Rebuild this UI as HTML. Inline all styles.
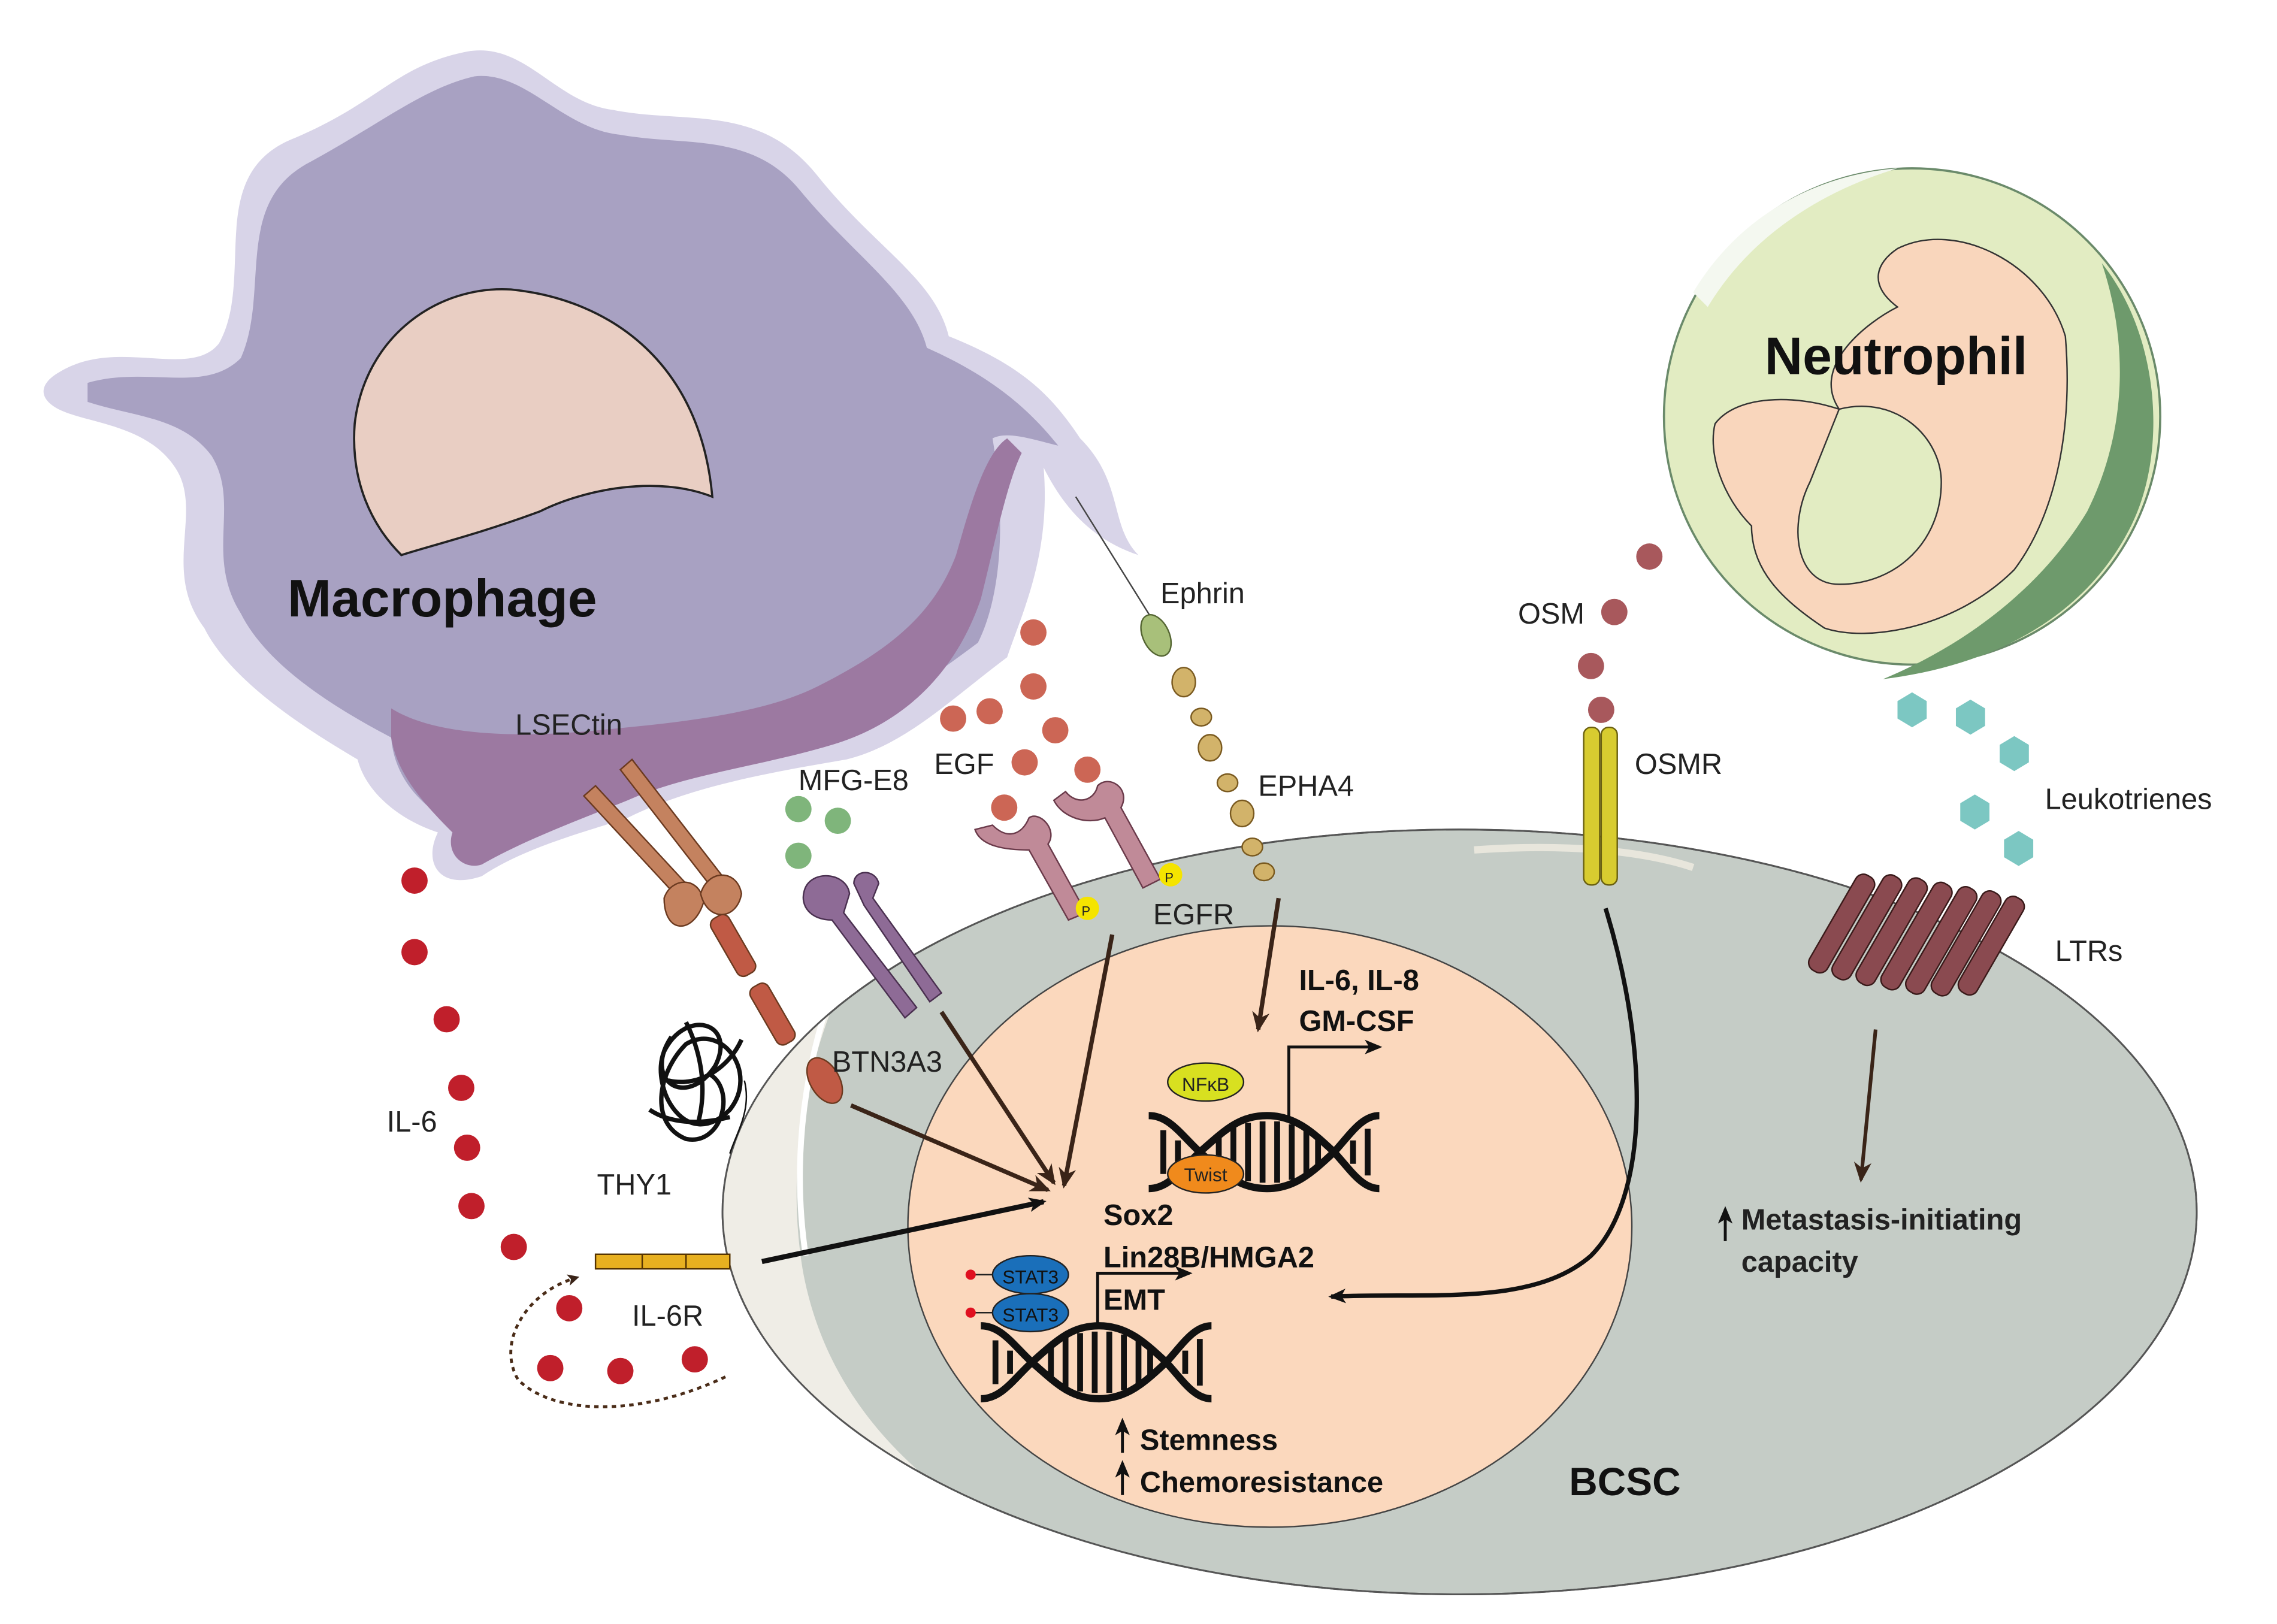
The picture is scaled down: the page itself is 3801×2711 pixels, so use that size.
<!DOCTYPE html>
<html><head><meta charset="utf-8"><style>
html,body{margin:0;padding:0;background:#fff}
svg{display:block}
text{font-family:"Liberation Sans",Arial,sans-serif}
</style></head><body>
<svg width="3801" height="2711" viewBox="0 0 1560 1112" xmlns="http://www.w3.org/2000/svg">
<defs>
<marker id="ab" markerWidth="8" markerHeight="8" refX="6" refY="4" orient="auto" markerUnits="userSpaceOnUse"><path d="M0,0 L8,4 L0,8 L2,4 Z" fill="#3a2418"/></marker>
<marker id="ak" markerWidth="12" markerHeight="10" refX="10" refY="5" orient="auto" markerUnits="userSpaceOnUse"><path d="M0,0 L12,5 L0,10 L3,5 Z" fill="#111"/></marker>
<marker id="ab2" markerWidth="14" markerHeight="12" refX="12" refY="6" orient="auto" markerUnits="userSpaceOnUse"><path d="M0,0 L14,6 L0,12 L4,6 Z" fill="#3a2418"/></marker>
<clipPath id="cell"><ellipse cx="1000" cy="830" rx="505" ry="262"/></clipPath>
<g id="dna">
<path d="M0,-25 C14,-25 22,-12 35,0 C52,15 62,25 81,25 C100,25 112,14 127,0 C138,-12 146,-25 158,-25" fill="none" stroke="#111" stroke-width="5"/>
<path d="M0,25 C14,25 22,12 35,0 C52,-15 62,-25 81,-25 C100,-25 112,-14 127,0 C138,12 146,25 158,25" fill="none" stroke="#111" stroke-width="5"/>
<g stroke="#111" stroke-width="4">
<line x1="10" y1="-15" x2="10" y2="15"/><line x1="20" y1="-8" x2="20" y2="8"/>
<line x1="48" y1="-10" x2="48" y2="10"/><line x1="58" y1="-17" x2="58" y2="17"/><line x1="68" y1="-20" x2="68" y2="20"/><line x1="78" y1="-21" x2="78" y2="21"/><line x1="88" y1="-21" x2="88" y2="21"/><line x1="98" y1="-19" x2="98" y2="19"/><line x1="108" y1="-15" x2="108" y2="15"/><line x1="116" y1="-9" x2="116" y2="9"/>
<line x1="140" y1="-8" x2="140" y2="8"/><line x1="150" y1="-16" x2="150" y2="16"/>
</g></g>
</defs>

<!-- BCSC cell -->
<ellipse cx="1000" cy="830" rx="505" ry="262" fill="#c5ccc6" stroke="#555" stroke-width="1.2"/>
<g clip-path="url(#cell)">
<path d="M480,600 L620,600 C560,680 535,780 550,870 C570,980 660,1050 790,1095 L480,1100 Z" fill="#efede6"/>
<path d="M600,615 C555,690 540,780 552,860" stroke="#fff" stroke-width="4" fill="none"/>
<path d="M1010,582 C1080,577 1130,584 1160,594" stroke="#e8e6dc" stroke-width="5" fill="none"/>
</g>
<ellipse cx="1000" cy="830" rx="505" ry="262" fill="none" stroke="#555" stroke-width="1.2"/>
<!-- nucleus -->
<ellipse cx="870" cy="840" rx="248" ry="206" fill="#fbd8bd" stroke="#444" stroke-width="1"/>

<!-- Macrophage -->
<path d="M40,255 C80,230 130,260 150,235 C175,190 140,120 200,95 C260,70 270,45 320,35 C360,28 380,70 420,75 C470,85 520,70 560,120 C600,170 640,190 650,230 C700,250 720,270 740,300 C770,330 760,360 780,380 C750,370 730,350 715,320 C720,380 700,420 690,450 C650,480 620,510 580,520 C520,530 470,540 430,560 C400,570 360,580 330,600 C300,610 290,590 300,570 C270,560 250,540 245,520 C220,505 160,470 140,430 C110,390 140,350 120,320 C100,290 60,290 40,280 C25,272 28,262 40,255 Z" fill="#d8d4e8"/>
<path d="M60,262 C100,250 140,270 165,245 C185,200 160,140 210,112 C260,85 290,60 325,52 C360,48 385,88 425,92 C470,100 515,90 548,130 C585,175 625,200 635,238 C680,258 705,280 725,305 C705,300 690,295 680,300 C690,360 685,410 670,440 C630,470 600,490 560,500 C510,510 460,520 420,540 C390,552 360,565 330,580 C315,585 305,580 312,565 C285,550 270,530 268,505 C240,490 185,460 165,420 C140,380 165,345 145,312 C125,285 90,285 60,275 Z" fill="#a8a1c2"/>
<path d="M268,485 C300,505 360,505 410,500 C460,495 520,490 560,470 C610,445 640,420 655,380 C665,345 675,310 690,300 L700,310 C690,330 682,370 672,410 C655,460 620,495 570,510 C520,525 470,530 430,548 C395,562 360,575 330,592 C318,596 305,585 310,570 C290,550 272,530 268,505 Z" fill="#9c79a1"/>
<path d="M243,290 C250,230 300,195 350,198 C420,205 480,250 488,340 C450,325 400,335 370,350 C330,365 290,375 275,380 C255,360 240,330 243,290 Z" fill="#e9cec3" stroke="#222" stroke-width="1.5"/>
<text x="197" y="422" font-size="36" font-weight="bold" fill="#111">Macrophage</text>

<!-- Neutrophil -->
<circle cx="1310" cy="285" r="170" fill="#e2ecc2" stroke="#6a8a6a" stroke-width="1.5"/>
<path d="M1440,180 C1480,230 1485,310 1460,360 C1430,420 1370,455 1290,465 C1350,440 1400,400 1430,350 C1455,300 1460,240 1440,180 Z" fill="#6e9a6c"/>
<path d="M1160,200 C1190,150 1240,120 1300,115 C1250,130 1200,160 1170,210 Z" fill="#f4f8f0"/>
<path d="M1300,170 C1340,150 1400,180 1415,230 C1420,290 1410,350 1380,390 C1340,430 1280,440 1250,430 C1220,410 1200,390 1200,360 C1180,340 1170,310 1175,290 C1190,270 1230,270 1260,280 C1240,250 1280,220 1300,210 C1280,195 1285,180 1300,170 Z" fill="#f9d6bc" stroke="#333" stroke-width="1"/>
<path d="M1260,280 C1300,270 1330,300 1330,330 C1330,370 1300,400 1260,400 C1230,400 1225,360 1240,330 Z" fill="#e2ecc2" stroke="#333" stroke-width="1"/>
<text x="1209" y="256" font-size="36" font-weight="bold" fill="#111">Neutrophil</text>

<!-- IL-6 dots -->
<g fill="#c01f2b">
<circle cx="284" cy="603" r="9"/><circle cx="284" cy="652" r="9"/><circle cx="306" cy="698" r="9"/><circle cx="316" cy="745" r="9"/><circle cx="320" cy="786" r="9"/><circle cx="323" cy="826" r="9"/><circle cx="352" cy="854" r="9"/><circle cx="390" cy="896" r="9"/><circle cx="377" cy="937" r="9"/><circle cx="425" cy="939" r="9"/><circle cx="476" cy="931" r="9"/>
</g>
<path d="M497,943 C440,970 380,970 355,945 C340,920 360,885 395,875" fill="none" stroke="#4a2c18" stroke-width="2" stroke-dasharray="3,3" marker-end="url(#ab)"/>
<text x="265" y="775" font-size="20" fill="#222">IL-6</text>
<!-- IL-6R -->
<rect x="408" y="859" width="92" height="10" fill="#e8b020" stroke="#553300" stroke-width="1"/>
<line x1="440" y1="859" x2="440" y2="869" stroke="#553300"/><line x1="470" y1="859" x2="470" y2="869" stroke="#553300"/>
<text x="433" y="908" font-size="20" fill="#222">IL-6R</text>
<line x1="522" y1="864" x2="715" y2="823" stroke="#111" stroke-width="3.5" marker-end="url(#ak)"/>

<!-- THY1 scribble -->
<g fill="none" stroke="#111" stroke-width="3">
<path d="M460,710 C440,740 470,760 490,730 C505,700 470,690 455,720 C445,745 470,790 500,760 C520,735 495,700 470,715 C450,735 445,770 470,780 C495,785 505,745 485,735"/>
<path d="M445,760 C460,770 480,770 500,765 M470,700 C480,720 485,745 478,770 M458,740 C480,745 500,730 508,712"/>
<path d="M510,740 C515,760 505,775 500,790" stroke-width="1"/>
</g>
<text x="409" y="818" font-size="20" fill="#222">THY1</text>

<!-- LSECtin / BTN3A3 -->
<text x="353" y="503" font-size="20" fill="#222">LSECtin</text>
<g stroke="#6b3a20" stroke-width="1">
<path d="M400,545 L408,538 L470,605 L462,612 Z" fill="#c4825f"/>
<path d="M425,527 L433,520 L495,600 L487,607 Z" fill="#c4825f"/>
<path d="M455,615 C460,600 480,600 482,618 C475,640 455,640 455,615 Z" fill="#c4825f"/>
<path d="M480,612 C485,595 505,595 508,612 C505,630 485,632 480,612 Z" fill="#c4825f"/>
<rect x="495" y="625" width="14" height="45" rx="5" transform="rotate(-30 502 647)" fill="#c05a45"/>
<rect x="522" y="672" width="14" height="45" rx="5" transform="rotate(-30 529 694)" fill="#c05a45"/>
<ellipse cx="565" cy="740" rx="10" ry="17" transform="rotate(-30 565 740)" fill="#c05a45"/>
</g>
<text x="570" y="734" font-size="20" fill="#222">BTN3A3</text>
<line x1="583" y1="757" x2="718" y2="815" stroke="#3a2418" stroke-width="3" marker-end="url(#ab2)"/>

<!-- MFG-E8 -->
<text x="547" y="541" font-size="20" fill="#222">MFG-E8</text>
<g fill="#7fb57b"><circle cx="547" cy="554" r="9"/><circle cx="574" cy="562" r="9"/><circle cx="547" cy="586" r="9"/></g>
<g fill="#8e6b96" stroke="#4a3050" stroke-width="1">
<path d="M551,610 C555,595 580,597 582,612 L578,625 L628,690 L620,697 L570,630 C555,630 548,620 551,610 Z"/>
<path d="M585,605 C585,595 600,595 602,605 L598,615 L645,680 L637,686 L592,620 Z"/>
</g>
<line x1="645" y1="693" x2="722" y2="810" stroke="#3a2418" stroke-width="3" marker-end="url(#ab2)"/>

<!-- EGF -->
<text x="640" y="530" font-size="20" fill="#222">EGF</text>
<g fill="#cc6655">
<circle cx="708" cy="433" r="9"/><circle cx="708" cy="470" r="9"/><circle cx="653" cy="492" r="9"/><circle cx="678" cy="487" r="9"/><circle cx="723" cy="500" r="9"/><circle cx="702" cy="522" r="9"/><circle cx="745" cy="527" r="9"/><circle cx="688" cy="553" r="9"/>
</g>
<g fill="#c08a98" stroke="#6a3a4a" stroke-width="1">
<path d="M668,568 C672,580 690,582 705,582 L732,630 L744,625 L718,578 C725,568 712,555 705,560 C700,572 690,575 680,565 Z"/>
<path d="M722,548 C728,560 745,565 757,560 L783,608 L795,602 L768,553 C775,540 760,530 752,538 C750,548 738,552 730,542 Z"/>
</g>
<circle cx="745" cy="622" r="8" fill="#f5e400"/><text x="741" y="627" font-size="9" fill="#222">P</text>
<circle cx="802" cy="599" r="8" fill="#f5e400"/><text x="798" y="604" font-size="9" fill="#222">P</text>
<text x="790" y="633" font-size="20" fill="#222">EGFR</text>
<line x1="762" y1="640" x2="729" y2="812" stroke="#3a2418" stroke-width="3" marker-end="url(#ab2)"/>

<!-- Ephrin / EPHA4 -->
<line x1="737" y1="340" x2="790" y2="425" stroke="#444" stroke-width="1"/>
<ellipse cx="792" cy="435" rx="9" ry="15" transform="rotate(-25 792 435)" fill="#a8c07a" stroke="#556633"/>
<text x="795" y="413" font-size="20" fill="#222">Ephrin</text>
<g fill="#d2b36a" stroke="#7a5a20" stroke-width="1">
<ellipse cx="811" cy="467" rx="8" ry="10"/><ellipse cx="823" cy="491" rx="7" ry="6"/><ellipse cx="829" cy="512" rx="8" ry="9"/><ellipse cx="841" cy="536" rx="7" ry="6"/><ellipse cx="851" cy="557" rx="8" ry="9"/><ellipse cx="858" cy="580" rx="7" ry="6"/><ellipse cx="866" cy="597" rx="7" ry="6"/>
</g>
<text x="862" y="545" font-size="20" fill="#222">EPHA4</text>
<line x1="876" y1="615" x2="862" y2="705" stroke="#3a2418" stroke-width="3" marker-end="url(#ab2)"/>

<!-- OSM / OSMR -->
<g fill="#a8585c"><circle cx="1130" cy="381" r="9"/><circle cx="1106" cy="419" r="9"/><circle cx="1090" cy="456" r="9"/><circle cx="1097" cy="486" r="9"/></g>
<text x="1040" y="427" font-size="20" fill="#222">OSM</text>
<rect x="1085" y="498" width="11" height="108" rx="5" fill="#d8cc30" stroke="#6a6010"/>
<rect x="1097" y="498" width="11" height="108" rx="5" fill="#d8cc30" stroke="#6a6010"/>
<text x="1120" y="530" font-size="20" fill="#222">OSMR</text>
<path d="M1100,622 C1130,720 1130,820 1090,860 C1050,895 980,885 912,888" fill="none" stroke="#111" stroke-width="3" marker-end="url(#ak)"/>

<!-- Leukotrienes -->
<g fill="#7cc7c2">
<polygon points="1300,480 1310,474 1320,480 1320,492 1310,498 1300,492"/>
<polygon points="1340,485 1350,479 1360,485 1360,497 1350,503 1340,497"/>
<polygon points="1370,510 1380,504 1390,510 1390,522 1380,528 1370,522"/>
<polygon points="1343,550 1353,544 1363,550 1363,562 1353,568 1343,562"/>
<polygon points="1373,575 1383,569 1393,575 1393,587 1383,593 1373,587"/>
</g>
<text x="1401" y="554" font-size="20" fill="#222">Leukotrienes</text>
<!-- LTRs -->
<g fill="#8a4a50" stroke="#3a1a1a" stroke-width="1">
<rect x="1255" y="595" width="14" height="75" rx="6" transform="rotate(30 1262 632)"/>
<rect x="1272" y="595" width="14" height="80" rx="6" transform="rotate(30 1279 635)"/>
<rect x="1289" y="597" width="14" height="82" rx="6" transform="rotate(30 1296 638)"/>
<rect x="1306" y="600" width="14" height="82" rx="6" transform="rotate(30 1313 641)"/>
<rect x="1323" y="603" width="14" height="82" rx="6" transform="rotate(30 1330 644)"/>
<rect x="1340" y="606" width="14" height="80" rx="6" transform="rotate(30 1347 646)"/>
<rect x="1357" y="610" width="14" height="75" rx="6" transform="rotate(30 1364 648)"/>
</g>
<text x="1408" y="658" font-size="20" fill="#222">LTRs</text>
<line x1="1285" y1="705" x2="1275" y2="808" stroke="#3a2418" stroke-width="2.5" marker-end="url(#ab2)"/>
<text x="1193" y="842" font-size="20" font-weight="bold" fill="#222">Metastasis-initiating</text>
<text x="1193" y="871" font-size="20" font-weight="bold" fill="#222">capacity</text>
<line x1="1182" y1="850" x2="1182" y2="828" stroke="#111" stroke-width="2" marker-end="url(#ak)"/>

<!-- DNA 1 -->
<use href="#dna" x="787" y="789"/>
<path d="M883,765 L883,717 L945,717" fill="none" stroke="#111" stroke-width="2" marker-end="url(#ak)"/>
<ellipse cx="826" cy="741" rx="26" ry="13" fill="#d8e020" stroke="#222"/>
<text x="826" y="747" font-size="13" fill="#222" text-anchor="middle">NFκB</text>
<ellipse cx="826" cy="804" rx="26" ry="13" fill="#f08a1c" stroke="#222"/>
<text x="826" y="809" font-size="13" fill="#222" text-anchor="middle">Twist</text>
<text x="890" y="678" font-size="20" font-weight="bold" fill="#111">IL-6, IL-8</text>
<text x="890" y="706" font-size="20" font-weight="bold" fill="#111">GM-CSF</text>

<!-- DNA 2 -->
<use href="#dna" x="672" y="933"/>
<path d="M752,910 L752,872 L815,872" fill="none" stroke="#111" stroke-width="2" marker-end="url(#ak)"/>
<ellipse cx="706" cy="873" rx="26" ry="13" fill="#1a6fba" stroke="#222"/>
<text x="706" y="879" font-size="13" fill="#111" text-anchor="middle">STAT3</text>
<ellipse cx="706" cy="899" rx="26" ry="13" fill="#1a6fba" stroke="#222"/>
<text x="706" y="905" font-size="13" fill="#111" text-anchor="middle">STAT3</text>
<line x1="665" y1="873" x2="680" y2="873" stroke="#222"/><circle cx="665" cy="873" r="3.5" fill="#e01020"/>
<line x1="665" y1="899" x2="680" y2="899" stroke="#222"/><circle cx="665" cy="899" r="3.5" fill="#e01020"/>
<text x="756" y="839" font-size="20" font-weight="bold" fill="#111">Sox2</text>
<text x="756" y="868" font-size="20" font-weight="bold" fill="#111">Lin28B/HMGA2</text>
<text x="756" y="897" font-size="20" font-weight="bold" fill="#111">EMT</text>
<line x1="769" y1="995" x2="769" y2="973" stroke="#111" stroke-width="2" marker-end="url(#ak)"/>
<text x="781" y="993" font-size="20" font-weight="bold" fill="#111">Stemness</text>
<line x1="769" y1="1024" x2="769" y2="1002" stroke="#111" stroke-width="2" marker-end="url(#ak)"/>
<text x="781" y="1022" font-size="20" font-weight="bold" fill="#111">Chemoresistance</text>
<text x="1075" y="1024" font-size="27" font-weight="bold" fill="#111">BCSC</text>
</svg>
</body></html>
